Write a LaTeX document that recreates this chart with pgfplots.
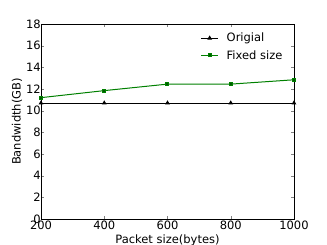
\documentclass[border=0pt]{standalone}
\usepackage{pgfplots}
\pgfplotsset{compat=1.18}
\usepackage{fontspec}
\setmainfont{DejaVu Sans}
\definecolor{mplgreen}{RGB}{0,128,0}
\begin{document}
\begin{tikzpicture}
\begin{axis}[
  at={(0,0)}, anchor=south west,
  scale only axis, width=253pt, height=195pt,
  xmin=200, xmax=1000, ymin=0, ymax=18,
  xtick={200,400,600,800,1000}, ytick={0,2,...,18},
  tick align=inside, tick pos=both,
  major tick length=3pt,
  /pgf/number format/assume math mode=true,
  /pgf/number format/1000 sep={},
  tick label style={font=\fontsize{11.5}{13}\selectfont, inner sep=1pt},
  xticklabel style={yshift=-1pt},
  yticklabel style={xshift=1pt},
  label style={font=\fontsize{11.5}{13}\selectfont},
  xlabel={Packet size(bytes)}, ylabel={Bandwidth(GB)},
  xlabel style={at={(axis description cs:0.5,0)}, anchor=center, yshift=-21pt},
  ylabel style={at={(axis description cs:0,0.5)}, anchor=center, yshift=24pt},
  axis line style={line width=0.6pt},
  legend style={draw=none, fill=none, at={(0.975,0.975)}, anchor=north east,
    font=\fontsize{11.5}{13}\selectfont, row sep=3pt, column sep=6pt},
  legend cell align=left,
]
\addplot[black, line width=1pt, mark=triangle*, mark size=1.8pt] coordinates {
(200,10.7) (400,10.7) (600,10.7) (800,10.7) (1000,10.7)};
\addlegendentry{Origial}
\addplot[mplgreen, line width=1pt, mark=square*, mark size=1.5pt, mark options={fill=mplgreen!70!black}] coordinates {
(200,11.2) (400,11.85) (600,12.45) (800,12.45) (1000,12.85)};
\addlegendentry{Fixed size}
\end{axis}
\pgfresetboundingbox
\path[use as bounding box] (-41pt,-26pt) rectangle (286pt,219pt);
\end{tikzpicture}
\end{document}
